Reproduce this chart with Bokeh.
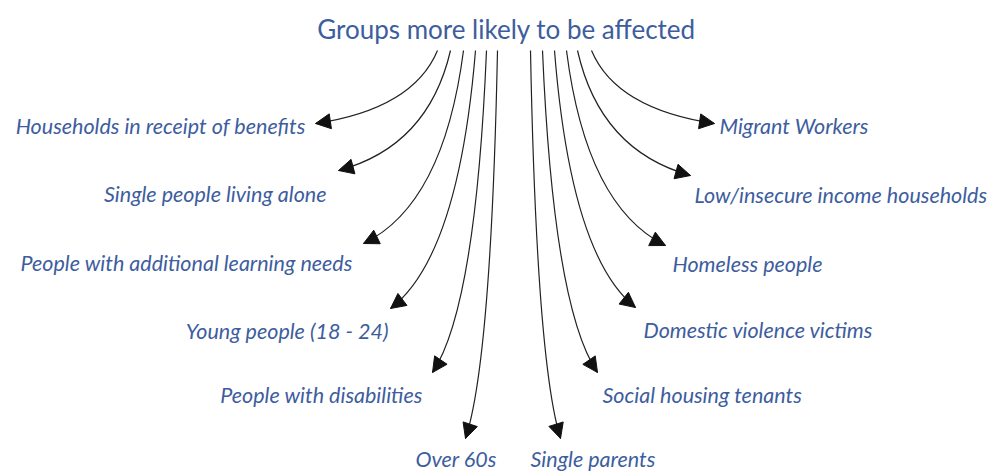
import numpy as np
from bokeh.plotting import figure
from bokeh.models import Range1d, ColumnDataSource, Arrow, NormalHead
from bokeh.embed import file_html
from bokeh.resources import INLINE
from bokeh.core.properties import value

title = "Groups more likely to be affected"

labels = ["Households in receipt of benefits", "Single people living alone",
          "People with additional learning needs", "Young people (18 - 24)",
          "People with disabilities", "Over 60s",
          "Single parents", "Social housing tenants", "Domestic violence victims",
          "Homeless people", "Low/insecure income households", "Migrant Workers"]
label_x = [305, 326, 352, 388, 422, 415, 530, 602, 643, 672, 694, 719]
label_y = [125, 193, 262, 330, 394, 458, 458, 394, 329, 263, 194, 125]
label_align = ["right"] * 5 + ["left"] * 7

start_x = [437, 450, 463, 475, 486, 497, 530, 542, 554, 566, 577, 591]
start_y = [50] * 12
tip_x = [315, 338, 363, 390, 432, 465, 560, 597, 635, 665, 690, 714]
tip_y = [123, 170, 243, 308, 372, 438, 438, 372, 307, 245, 175, 123]

BLUE = "#3d5d9e"

p = figure(width=990, height=473, output_backend="svg", toolbar_location=None,
           x_range=Range1d(0, 990), y_range=Range1d(473, 0),
           min_border=0, outline_line_color=None)
p.axis.visible = False
p.grid.visible = False

sx = np.array(start_x, float); sy = np.array(start_y, float)
tx = np.array(tip_x, float); ty = np.array(tip_y, float)
cx = sx + 0.2 * (tx - sx)
cy = sy + 0.8 * (ty - sy)

p.quadratic(x0=sx, y0=sy, x1=tx, y1=ty, cx=cx, cy=cy, line_color="#222222", line_width=1.2)

# arrow heads along end tangent
dx = tx - cx; dy = ty - cy
n = np.hypot(dx, dy)
ax0 = tx - dx / n * 6
ay0 = ty - dy / n * 6
src = ColumnDataSource(dict(x0=ax0, y0=ay0, x1=tx, y1=ty))
p.add_layout(Arrow(end=NormalHead(size=15, fill_color="#111111", line_color="#111111"),
                   x_start="x0", y_start="y0", x_end="x1", y_end="y1",
                   source=src, line_color="#222222", line_width=1.2))

p.text(x=[506], y=[28], text=[title], text_font=value("Lato"), text_font_size="26px",
       text_color=BLUE, text_align="center", text_baseline="middle")

lsrc = ColumnDataSource(dict(x=label_x, y=label_y, t=labels, a=label_align))
p.text(x="x", y="y", text="t", text_align="a", source=lsrc, text_font=value("Lato"),
       text_font_style="italic", text_font_size="21.5px", text_color=BLUE,
       text_baseline="middle")

open("out.html", "w").write(file_html(p, INLINE))
